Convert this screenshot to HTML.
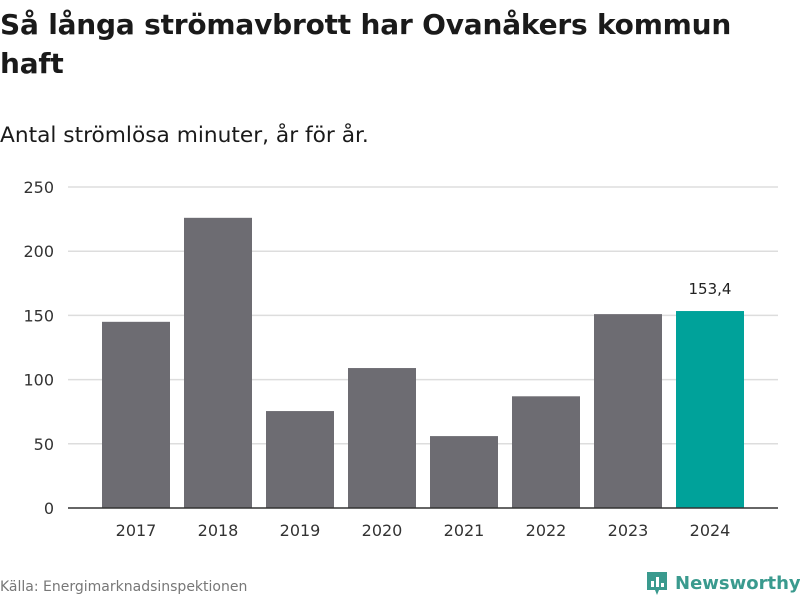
<!DOCTYPE html>
<html><head><meta charset="utf-8">
<style>
body{margin:0;width:800px;height:600px;background:#fff;font-family:"DejaVu Sans","Liberation Sans",sans-serif;color:#1a1a1a;overflow:hidden;position:relative}
#title{position:absolute;left:0;top:5px;font-size:28px;font-weight:bold;line-height:39px;width:800px;letter-spacing:-0.2px}
#sub{position:absolute;left:0;top:123px;font-size:21.7px}
#src{position:absolute;left:0;top:579px;font-size:14px;color:#777}
#logo{position:absolute;left:645px;top:570px;font-size:18px;font-weight:bold;color:#3a9a8e;display:flex;align-items:center;gap:6px}
svg{position:absolute;left:0;top:0}
</style></head><body>
<div id="title">Så långa strömavbrott har Ovanåkers kommun<br>haft</div>
<div id="sub">Antal strömlösa minuter, år för år.</div>
<div id="src">Källa: Energimarknadsinspektionen</div>
<div id="logo"><svg width="24" height="26" style="position:static"><path d="M2 2h20v18h-8l-2 5-2-5H2z" fill="#3a9a8e"/><rect x="6" y="11" width="3" height="6" fill="#fff"/><rect x="11" y="7" width="3" height="10" fill="#fff"/><rect x="16" y="13" width="3" height="4" fill="#fff"/></svg>Newsworthy</div>
<svg id="chart" width="800" height="600"></svg>
<script>
const categories=["2017","2018","2019","2020","2021","2022","2023","2024"];
const values=[145,226,75.5,109,56,87,151,153.4];
const yTicks=[0,50,100,150,200,250];
const highlightLabel="153,4";
const svg=document.getElementById('chart');
const NS="http://www.w3.org/2000/svg";
const x0=68,x1=778,yb=508,yt=187,maxV=250;
const y=v=>yb-(v/maxV)*(yb-yt);
const step=82;
const xc=i=>x0+27+step*(i+0.5);
const bw=68;
function mk(t,a){const e=document.createElementNS(NS,t);for(const k in a)e.setAttribute(k,a[k]);svg.appendChild(e);return e;}
yTicks.forEach(t=>{
  if(t>0){const g=mk('line',{x1:x0,x2:x1,y1:y(t),y2:y(t),stroke:'#ddd','stroke-width':1.5});
  
  }
  const l=mk('text',{x:54,y:y(t)+6,'text-anchor':'end','font-size':16,fill:'#333'});l.textContent=t;
  
  
});
values.forEach((v,i)=>{
  const last=i===values.length-1;
  const r=mk('rect',{x:xc(i)-bw/2,y:y(v),width:bw,height:yb-y(v),fill:last?'#00a29a':'#6d6c72'});
  
  
  const t=mk('text',{x:xc(i),y:536,'text-anchor':'middle','font-size':16,fill:'#333'});t.textContent=categories[i];
  
  
  if(last){const lb=mk('text',{x:xc(i),y:y(v)-17,'text-anchor':'middle','font-size':15,fill:'#222'});lb.textContent=highlightLabel;
  
  }
});
const ax=mk('line',{x1:x0,x2:x1,y1:yb,y2:yb,stroke:'#333','stroke-width':1.5});


</script>
</body></html>
